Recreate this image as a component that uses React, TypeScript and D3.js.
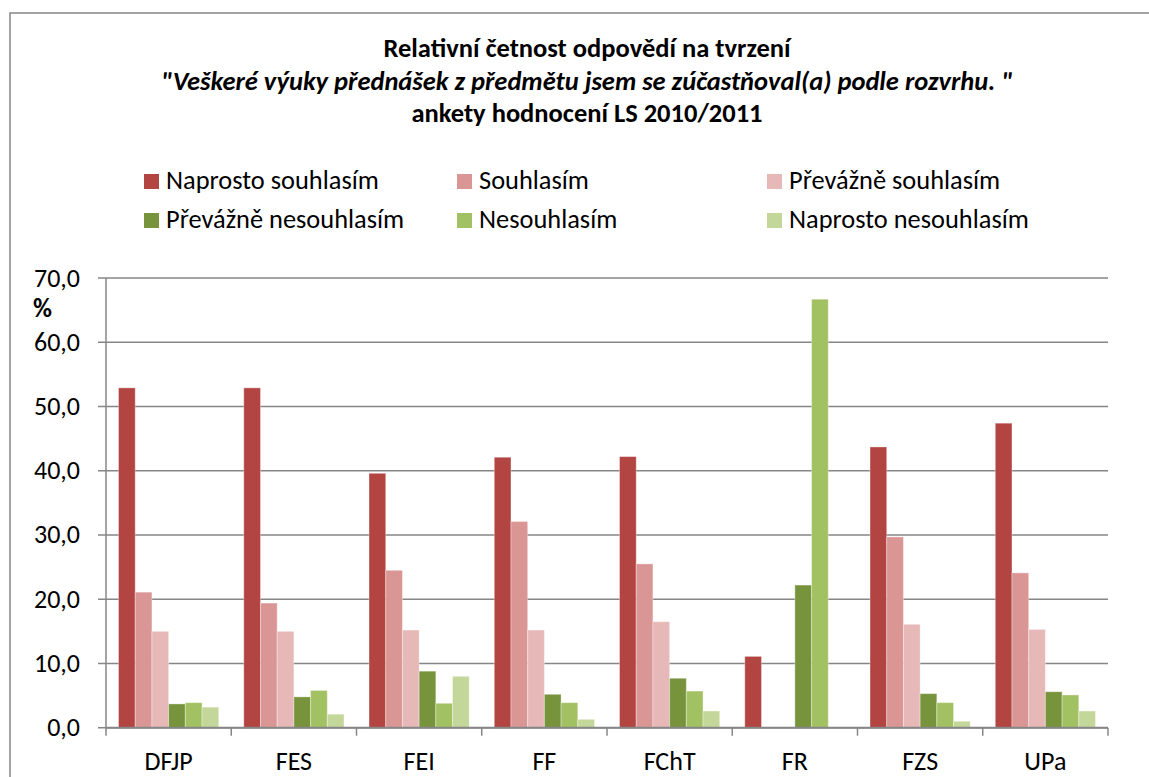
import React from "react";
import * as d3 from "d3";

const categories = ["DFJP", "FES", "FEI", "FF", "FChT", "FR", "FZS", "UPa"];
const seriesNames = [
  "Naprosto souhlasím",
  "Souhlasím",
  "Převážně souhlasím",
  "Převážně nesouhlasím",
  "Nesouhlasím",
  "Naprosto nesouhlasím",
];
const naprostoSouhlasim = [52.9, 52.9, 39.6, 42.1, 42.2, 11.1, 43.7, 47.4];
const souhlasim = [21.1, 19.4, 24.5, 32.1, 25.5, 0, 29.7, 24.1];
const prevazneSouhlasim = [15.0, 15.0, 15.2, 15.2, 16.5, 0, 16.1, 15.3];
const prevazneNesouhlasim = [3.7, 4.8, 8.8, 5.2, 7.7, 22.2, 5.3, 5.6];
const nesouhlasim = [3.9, 5.8, 3.8, 3.9, 5.7, 66.7, 3.9, 5.1];
const naprostoNesouhlasim = [3.2, 2.1, 8.0, 1.3, 2.6, 0, 1.0, 2.6];
const seriesValues = [
  naprostoSouhlasim,
  souhlasim,
  prevazneSouhlasim,
  prevazneNesouhlasim,
  nesouhlasim,
  naprostoNesouhlasim,
];
const seriesColors = ["#B24442", "#DA9695", "#E6B8B7", "#77933C", "#A2C163", "#C4D79B"];
const yTicks = [0, 10, 20, 30, 40, 50, 60, 70];
const titleLines = [
  "Relativní četnost odpovědí na tvrzení",
  "\"Veškeré výuky přednášek z předmětu jsem se zúčastňoval(a) podle rozvrhu. \"",
  "ankety hodnocení LS 2010/2011",
];
const yUnit = "%";

const FONT = "Calibri, Carlito, Lato, sans-serif";
const GRID = "#868686";

export default function App() {
  const W = 1149;
  const H = 777;
  const left = 106;
  const right = 1108;
  const y0 = 727.7;
  const yTop = 278;

  const x = d3.scaleBand<string>().domain(categories).range([left, right]).paddingInner(0).paddingOuter(0);
  const xs = d3
    .scaleBand<number>()
    .domain(d3.range(seriesNames.length))
    .range([0, x.bandwidth()])
    .paddingInner(0)
    .paddingOuter(0.75);
  const y = d3.scaleLinear().domain([0, 70]).range([y0, yTop]);
  const fmt = (v: number) => d3.format(".1f")(v).replace(".", ",");

  const legendCols = [144, 457, 767];
  const legendRows = [189, 228];

  return (
    <svg
      width={W}
      height={H}
      viewBox={`0 0 ${W} ${H}`}
      style={{ position: "fixed", left: 0, top: 0, background: "#fff" }}
      fontFamily={FONT}
    >
      <rect x={0} y={0} width={W} height={H} fill="#fff" />
      {/* outer frame */}
      <path d={`M10,${H + 5} L10,13 L${W + 5},13`} fill="none" stroke={GRID} strokeWidth={1.5} />

      {/* title */}
      {titleLines.map((t, i) => (
        <text
          key={i}
          x={587}
          y={[57, 90, 122][i]}
          textAnchor="middle"
          fontSize={26.5}
          fontWeight="bold"
          fontStyle={i === 1 ? "italic" : "normal"}
          fill="#000"
        >
          {t}
        </text>
      ))}

      {/* legend */}
      {seriesNames.map((s, i) => {
        const cx = legendCols[i % 3];
        const cy = legendRows[Math.floor(i / 3)];
        return (
          <g key={s}>
            <rect x={cx} y={cy - 15} width={15} height={15} fill={seriesColors[i]} />
            <text x={cx + 22} y={cy} fontSize={26.4} fill="#000">
              {s}
            </text>
          </g>
        );
      })}

      {/* gridlines + y ticks */}
      {yTicks.map((t) => (
        <g key={t}>
          <line x1={left - 8} x2={right} y1={y(t)} y2={y(t)} stroke={GRID} strokeWidth={1.5} />
          <text x={80} y={y(t) + 8.5} textAnchor="end" fontSize={26} fill="#000">
            {fmt(t)}
          </text>
        </g>
      ))}
      <text x={33} y={317} fontSize={26} fontWeight="bold" fill="#000">
        {yUnit}
      </text>

      {/* bars */}
      {categories.map((c, ci) => (
        <g key={c} transform={`translate(${x(c)},0)`}>
          {seriesValues.map((vals, si) =>
            vals[ci] > 0 ? (
              <rect
                key={si}
                x={xs(si)}
                y={y(vals[ci])}
                width={xs.bandwidth()}
                height={y0 - y(vals[ci])}
                fill={seriesColors[si]}
                stroke="#ffffff"
                strokeOpacity={0.35}
                strokeWidth={1}
              />
            ) : null
          )}
        </g>
      ))}

      {/* axes */}
      <line x1={left} x2={left} y1={yTop} y2={y0} stroke={GRID} strokeWidth={1.5} />
      <line x1={left} x2={right} y1={y0} y2={y0} stroke={GRID} strokeWidth={2} />
      {d3.range(categories.length + 1).map((i) => {
        const xx = left + i * x.step();
        return <line key={i} x1={xx} x2={xx} y1={y0} y2={y0 + 8} stroke={GRID} strokeWidth={1.5} />;
      })}
      {categories.map((c) => (
        <text key={c} x={(x(c) as number) + x.bandwidth() / 2} y={770} textAnchor="middle" fontSize={26} fill="#000">
          {c}
        </text>
      ))}
    </svg>
  );
}
